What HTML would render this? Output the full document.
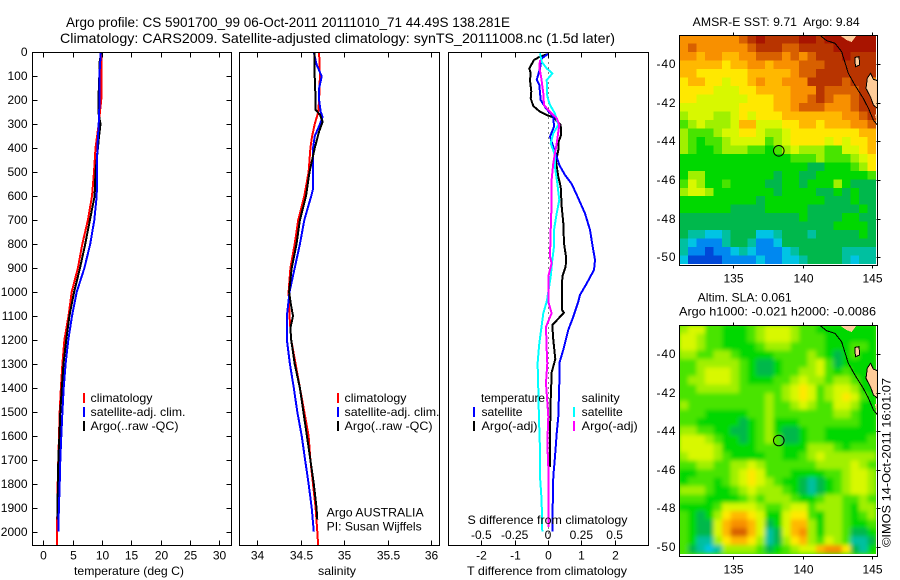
<!DOCTYPE html>
<html lang="en">
<head>
<meta charset="utf-8">
<title>Argo profile 5901700_99</title>
<style>
html,body{margin:0;padding:0;background:#fff;}
svg{display:block;}
text{font-family:"Liberation Sans",sans-serif;font-size:12px;fill:#000;dominant-baseline:central;}
.frame{fill:none;stroke:#000;stroke-width:1;shape-rendering:crispEdges;}
.tick{stroke:#000;stroke-width:1;shape-rendering:crispEdges;}
.prof{fill:none;stroke-width:2;shape-rendering:crispEdges;stroke-linejoin:miter;}
.key{stroke-width:2;shape-rendering:crispEdges;}
</style>
</head>
<body>
<svg id="chart" xmlns="http://www.w3.org/2000/svg" width="900" height="580" viewBox="0 0 900 580">
  <defs>
    <filter id="sla-smooth" x="-5%" y="-5%" width="110%" height="110%"><feGaussianBlur stdDeviation="2"/></filter>
    <clipPath id="sla-clip"><rect x="679" y="325" width="197" height="229"/></clipPath>
  </defs>
  <rect x="0" y="0" width="900" height="580" fill="#fff"/>
  <text x="66" y="22" font-size="14" style="font-size:14px" textLength="444" lengthAdjust="spacingAndGlyphs">Argo profile: CS 5901700_99 06-Oct-2011 20111010_71 44.49S 138.281E</text>
  <text x="60" y="38" style="font-size:14px" textLength="555" lengthAdjust="spacingAndGlyphs">Climatology: CARS2009. Satellite-adjusted climatology: synTS_20111008.nc (1.5d later)</text>

  <g id="panel-layer"></g>

  <text x="74" y="571" textLength="110" lengthAdjust="spacingAndGlyphs">temperature (deg C)</text>
  <text x="318" y="571" textLength="38" lengthAdjust="spacingAndGlyphs">salinity</text>
  <text x="467" y="571" textLength="160" lengthAdjust="spacingAndGlyphs">T difference from climatology</text>
  <text x="467.5" y="520" textLength="160" lengthAdjust="spacingAndGlyphs">S difference from climatology</text>

  <g>
    <line class="key" x1="84" y1="393" x2="84" y2="403" stroke="#f00"/>
    <text x="90.5" y="398" textLength="62" lengthAdjust="spacingAndGlyphs">climatology</text>
    <line class="key" x1="84" y1="407" x2="84" y2="417" stroke="#00f"/>
    <text x="90.5" y="412" textLength="95" lengthAdjust="spacingAndGlyphs">satellite-adj. clim.</text>
    <line class="key" x1="84" y1="421" x2="84" y2="431" stroke="#000"/>
    <text x="90.5" y="426" textLength="88" lengthAdjust="spacingAndGlyphs">Argo(..raw -QC)</text>
  </g>
  <g>
    <line class="key" x1="338" y1="393" x2="338" y2="403" stroke="#f00"/>
    <text x="344.5" y="398" textLength="62" lengthAdjust="spacingAndGlyphs">climatology</text>
    <line class="key" x1="338" y1="407" x2="338" y2="417" stroke="#00f"/>
    <text x="344.5" y="412" textLength="95" lengthAdjust="spacingAndGlyphs">satellite-adj. clim.</text>
    <line class="key" x1="338" y1="421" x2="338" y2="431" stroke="#000"/>
    <text x="344.5" y="426" textLength="88" lengthAdjust="spacingAndGlyphs">Argo(..raw -QC)</text>
  </g>
  <text x="326.7" y="512.7" textLength="97" lengthAdjust="spacingAndGlyphs">Argo AUSTRALIA</text>
  <text x="326.7" y="526.7" textLength="95" lengthAdjust="spacingAndGlyphs">PI: Susan Wijffels</text>

  <g>
    <text x="481" y="398" textLength="64" lengthAdjust="spacingAndGlyphs">temperature</text>
    <line class="key" x1="474" y1="407" x2="474" y2="417" stroke="#00f"/>
    <text x="481.5" y="412" textLength="41" lengthAdjust="spacingAndGlyphs">satellite</text>
    <line class="key" x1="474" y1="421" x2="474" y2="431" stroke="#000"/>
    <text x="481.5" y="426" textLength="56" lengthAdjust="spacingAndGlyphs">Argo(-adj)</text>
    <text x="581.7" y="398" textLength="38" lengthAdjust="spacingAndGlyphs">salinity</text>
    <line class="key" x1="574" y1="407" x2="574" y2="417" stroke="#0ff"/>
    <text x="581.7" y="412" textLength="41" lengthAdjust="spacingAndGlyphs">satellite</text>
    <line class="key" x1="574" y1="421" x2="574" y2="431" stroke="#f0f"/>
    <text x="581.7" y="426" textLength="56" lengthAdjust="spacingAndGlyphs">Argo(-adj)</text>
  </g>

  <g id="map-layer"></g>

  <text x="692.7" y="22" textLength="167" lengthAdjust="spacingAndGlyphs" xml:space="preserve">AMSR-E SST: 9.71  Argo: 9.84</text>
  <text x="697.7" y="297.3" textLength="94" lengthAdjust="spacingAndGlyphs">Altim. SLA: 0.061</text>
  <text x="679" y="311.7" textLength="197" lengthAdjust="spacingAndGlyphs">Argo h1000: -0.021 h2000: -0.0086</text>
  <text transform="translate(886.7,547) rotate(-90)" x="0" y="0" textLength="169" lengthAdjust="spacingAndGlyphs">©IMOS 14-Oct-2011 16:01:07</text>
</svg>
<script>
// ---- profile data (depth in m, temperature in deg C, salinity in psu) ----
var tempClimDepth = [0,180,300,400,500,600,700,800,900,1000,1100,1200,1300,1400,1500,1600,1700,1800,1900,2000,2060];
var tempClimValue = [9.95,9.95,9.44,8.9,8.64,8.3,7.6,6.65,5.9,4.84,4.3,3.6,3.25,3.0,2.8,2.68,2.56,2.45,2.4,2.33,2.33];
var tempSatDepth = [0,100,200,300,400,500,600,700,800,900,1000,1100,1200,1300,1400,1500,1600,1700,1800,1900,2000];
var tempSatValue = [9.8,9.55,9.6,9.45,9.2,9.17,9.1,8.7,8.0,7.0,5.7,4.9,4.26,3.8,3.47,3.25,3.07,2.9,2.8,2.66,2.56];
var tempArgoDepth = [0,50,100,200,250,300,350,400,500,600,700,800,900,1000,1100,1200,1300,1400,1500,1600,1700,1800,1900,1950];
var tempArgoValue = [9.85,9.55,9.55,9.4,9.4,9.75,9.5,9.3,8.9,8.75,7.95,7.15,6.25,5.25,4.45,3.9,3.45,3.15,2.9,2.75,2.55,2.5,2.4,2.4];

var salClimDepth = [0,100,200,250,300,350,400,500,600,700,800,900,1000,1100,1200,1300,1400,1500,1600,1700,1800,1900,2000,2060];
var salClimValue = [34.71,34.72,34.71,34.70,34.66,34.63,34.61,34.59,34.54,34.47,34.43,34.38,34.36,34.37,34.39,34.44,34.49,34.54,34.59,34.61,34.64,34.67,34.69,34.70];
var salSatDepth = [0,50,100,150,200,250,270,300,350,400,500,570,600,700,800,900,1000,1100,1200,1300,1400,1500,1600,1700,1800,1900,2000];
var salSatValue = [34.65,34.68,34.74,34.71,34.71,34.73,34.75,34.72,34.66,34.64,34.64,34.64,34.62,34.54,34.49,34.43,34.37,34.34,34.34,34.375,34.42,34.46,34.51,34.55,34.59,34.625,34.65];
var salArgoDepth = [0,50,100,200,240,260,290,330,400,500,600,700,800,900,1000,1050,1100,1150,1200,1300,1400,1500,1600,1700,1800,1900,1950];
var salArgoValue = [34.655,34.66,34.66,34.67,34.67,34.72,34.75,34.71,34.66,34.6,34.56,34.49,34.45,34.395,34.365,34.385,34.41,34.38,34.39,34.43,34.49,34.53,34.57,34.61,34.65,34.68,34.69];

var diffTArgoDepth = [7,18,32,67,88,116,164,192,224,248,262,271,303,345,373,408,456,519,561,644,713,797,853,894,936,1020,1075,1086,1138,1200,1280,1335,1450,1590,1730];
var diffTArgoValue = [0.01,-0.24,-0.42,-0.56,-0.52,-0.54,-0.5,-0.52,-0.44,-0.24,-0.04,0.16,0.38,0.39,0.32,0.31,0.24,0.31,0.38,0.41,0.46,0.48,0.54,0.53,0.43,0.42,0.42,0.48,0.13,0.16,0.22,0.11,0.08,0.06,0.06];
var diffTSatDepth = [7,25,67,115,136,199,234,268,310,352,387,428,470,512,549,609,672,741,811,866,908,964,1012,1040,1103,1158,1241,1297,1380,1520,1590,1687,1770,1895,2000];
var diffTSatValue = [0,-0.19,-0.24,-0.34,-0.26,-0.22,-0.06,0.16,0.18,0.06,0.14,0.24,0.34,0.51,0.71,0.91,1.11,1.26,1.34,1.41,1.38,1.16,0.96,0.91,0.76,0.61,0.46,0.34,0.34,0.31,0.26,0.21,0.16,0.14,0.13];
var diffSSatDepth = [4,39,67,88,116,185,220,255,303,338,380,428,477,547,616,672,741,811,866,936,1026,1040,1089,1158,1214,1297,1422,1520,1659,1770,1867,2000];
var diffSSatValue = [-0.06,-0.048,-0.01,0.033,-0.01,-0.005,0.015,0.052,0.078,0.04,0.02,0.052,0.052,0.07,0.085,0.065,0.045,0.045,0.032,0.02,-0.005,-0.01,-0.035,-0.052,-0.065,-0.078,-0.072,-0.068,-0.06,-0.06,-0.048,-0.043];
var diffSArgoDepth = [32,60,116,172,220,241,275,303,380,422,463,533,630,741,853,880,936,1026,1040,1089,1145,1241,1297,1380,1520,1630,1730,1867,1980];
var diffSArgoValue = [-0.06,-0.065,-0.048,-0.035,-0.03,0.002,0.065,0.085,0.065,0.052,0.04,0.027,0.027,0.02,0.015,0.027,0.002,0.002,0.002,0.027,-0.015,-0.01,-0.005,-0.015,0.002,-0.005,0.002,0.002,0.002];

// ---- tick labels ----
var depthTicks = [0,100,200,300,400,500,600,700,800,900,1000,1100,1200,1300,1400,1500,1600,1700,1800,1900,2000];
var tempTicks = [0,5,10,15,20,25,30];
var salTicks = [34,34.5,35,35.5,36];
var salTickLabels = ['34','34.5','35','35.5','36'];
var diffTTicks = [-2,-1,0,1,2];
var diffTTickLabels = ['-2','-1','0','1','2'];
var diffSTicks = [-0.5,-0.25,0,0.25,0.5];
var diffSTickLabels = ['-0.5','-0.25','0','0.25','0.5'];
var latTicks = [-40,-42,-44,-46,-48,-50];
var lonTicks = [135,140,145];

// ---- map data: colour level per grid cell, north to south ----
var sstLevels = [
[11,11,11,11,11,11,11,12,13,14,13,13,13,13,14,14,13,14,14,14,14,14,14],
[11,12,11,11,11,11,11,11,12,13,13,13,12,12,13,13,13,13,14,14,14,14,14],
[11,11,10,11,11,10,10,11,11,12,12,12,11,12,11,12,13,13,13,14,13,13,13],
[10,10,10,10,10,9,10,10,11,11,10,11,11,11,12,12,12,13,13,13,13,13,13],
[10,10,9,9,9,9,9,9,10,10,10,10,10,11,12,12,13,13,13,13,13,13,13],
[9,10,10,9,9,8,9,9,10,11,10,10,11,11,11,13,13,13,13,12,13,13,11],
[9,9,9,9,8,8,8,9,9,10,10,10,10,11,11,11,13,12,12,12,12,13,13],
[9,9,8,8,8,8,8,8,9,9,9,10,10,11,11,12,13,12,11,11,12,13,13],
[8,8,8,8,8,8,8,9,9,9,9,10,10,11,12,12,12,11,11,11,12,13,13],
[7,8,8,8,7,7,8,9,8,9,9,9,10,10,10,10,10,10,10,11,11,12,13],
[6,7,8,7,7,7,8,10,10,8,8,8,9,9,10,10,9,10,10,10,11,11,12],
[7,6,6,6,7,8,8,9,9,8,7,7,8,9,9,9,9,9,9,9,9,10,10],
[7,6,5,6,6,7,8,8,8,8,6,7,8,9,9,9,9,8,9,8,9,9,10],
[7,6,5,5,6,7,7,7,6,6,5,6,7,8,7,7,7,6,6,8,8,9,10],
[5,5,5,5,5,5,5,5,5,5,5,5,5,6,6,6,7,6,6,6,7,8,9],
[5,5,5,5,5,5,5,5,5,5,5,5,5,5,5,4,4,5,5,5,6,7,9],
[5,7,7,5,5,5,5,5,5,5,5,4,5,5,4,4,5,5,5,5,5,5,6],
[6,8,7,5,5,6,5,5,5,5,4,4,5,5,4,5,5,5,7,5,4,4,4],
[7,8,8,7,5,5,5,5,5,5,5,4,5,5,5,5,4,4,5,4,5,4,4],
[5,5,5,5,5,5,5,5,5,4,5,5,5,5,5,5,5,4,4,4,5,4,4],
[5,5,5,5,5,5,4,4,4,4,5,5,5,5,5,4,4,4,4,4,4,5,4],
[4,4,4,4,4,4,4,4,4,4,4,4,4,4,5,4,4,4,4,5,5,4,4],
[4,4,4,4,4,4,4,4,4,4,4,4,4,4,4,4,4,4,5,5,5,5,4],
[4,3,3,2,2,3,4,4,4,2,2,3,4,4,4,3,4,4,4,4,4,5,4],
[3,2,1,1,1,3,4,4,3,1,1,2,4,4,4,4,4,4,4,4,4,4,4],
[3,1,1,0,1,1,2,3,2,1,1,1,2,3,4,4,4,4,4,3,3,3,3],
[2,0,0,0,0,1,1,1,1,2,1,1,2,2,3,4,4,4,4,3,2,3,3]
];
var slaLevels = [
[7,8,8,6,6,5,5,5,6,7,8,8,8,7,6,6,5,5,5,5,5,5,5],
[8,8,7,6,6,5,5,5,6,7,8,8,8,7,6,6,6,5,5,5,5,5,5],
[8,8,7,6,6,5,5,5,5,6,7,7,7,6,6,6,6,5,5,5,6,6,5],
[7,7,6,6,7,7,6,5,5,5,5,6,6,6,6,7,6,5,4,5,6,5,5],
[6,6,7,7,7,7,7,6,5,4,4,5,6,6,6,7,8,6,4,5,5,5,5],
[6,6,7,8,8,8,7,6,5,4,4,5,6,6,7,7,8,6,5,6,5,5,5],
[6,7,7,8,8,8,7,6,5,5,5,6,6,7,8,7,7,6,7,7,6,5,5],
[6,6,7,7,7,7,7,6,6,6,6,6,7,8,9,8,6,7,8,8,7,5,5],
[6,6,6,6,6,6,6,6,6,6,7,6,7,8,9,8,6,7,8,9,8,6,5],
[7,6,6,6,6,6,6,6,6,6,7,6,6,7,8,7,6,6,8,8,7,5,5],
[6,6,6,5,5,5,5,5,6,6,7,6,6,6,6,6,6,6,7,7,6,5,5],
[6,6,5,5,5,5,5,4,5,6,7,5,5,5,6,6,6,6,6,6,6,5,5],
[7,7,6,6,5,5,4,4,5,6,7,5,4,4,5,6,6,5,5,5,5,5,5],
[8,8,8,7,6,5,5,4,5,6,7,6,4,4,5,6,6,5,5,5,5,5,6],
[8,8,8,8,7,5,5,5,5,6,6,6,5,5,5,7,7,7,6,5,6,6,6],
[7,8,8,8,7,6,5,5,5,5,6,6,5,5,6,7,8,7,7,7,7,7,7],
[6,6,7,7,6,6,7,7,8,7,6,6,6,6,6,6,7,7,7,7,8,7,6],
[5,5,6,6,6,6,7,8,9,8,6,6,6,5,5,5,5,6,6,7,8,8,7],
[5,6,6,6,5,6,7,8,9,8,7,6,5,5,4,3,4,5,6,7,8,8,7],
[7,7,7,6,5,5,6,7,8,7,7,7,6,5,4,3,4,5,6,7,8,8,7],
[6,6,6,5,5,5,5,6,7,6,7,7,7,6,5,5,6,7,7,6,6,7,6],
[5,5,5,5,6,8,8,8,8,7,6,6,7,8,8,6,7,7,7,6,5,7,7],
[6,5,4,5,7,9,10,10,9,8,5,5,8,9,9,6,5,7,7,6,5,6,7],
[6,5,4,4,8,10,11,11,10,8,4,5,8,10,10,7,5,7,7,6,5,5,6],
[6,5,4,4,8,10,12,12,10,8,3,4,8,10,11,7,5,7,7,6,4,4,5],
[6,5,3,3,7,9,10,10,9,7,3,4,7,9,10,7,6,8,7,6,3,3,4],
[6,4,3,2,3,7,7,7,7,6,4,5,6,7,8,8,10,11,11,9,4,3,5]
];
var levelColors = ['#0048d8','#0088f0','#00c4e4','#00c0a0','#00b84c','#00d800','#48e400','#a0f000','#d8f800','#ffe800','#ffb800','#f89000','#d86000','#b83400','#a81400'];

var coastLon = [141.25,141.73,142.33,142.81,143.29,143.77,144.37,144.74,145.1,145.38];
var coastLat = [-38.52,-38.79,-38.93,-39.36,-40.48,-41.09,-41.78,-42.29,-42.9,-43.15];
var landLons = [[142.69,143.89,143.53,143.17],[143.77,144.06,144.11,143.8],[144.66,144.9,145.1,145.38,145.38,145.1,144.9,144.57],[145.2,145.38,145.38]];
var landLats = [[-38.52,-38.52,-38.86,-38.76],[-39.66,-39.62,-40.05,-40.14],[-40.74,-40.48,-40.79,-40.86,-42.29,-42.12,-41.72,-41.26],[-42.6,-42.6,-43.1]];
var floatLon = 138.281;
var floatLat = -44.49;

// ---- helpers ----
var NS = 'http://www.w3.org/2000/svg';
var panelLayer = document.getElementById('panel-layer');
var mapLayer = document.getElementById('map-layer');

function make(tag, parent, attrs) {
  var el = document.createElementNS(NS, tag);
  for (var k in attrs) { el.setAttribute(k, attrs[k]); }
  parent.appendChild(el);
  return el;
}

var panelTop = 52.5, panelBottom = 545.5;
function depthY(d) { return 52.3 + 0.2397 * d; }

function tempX(v) { return 43.3 + 5.867 * v; }
function salX(v) { return 257.3 + 87 * (v - 34); }
function diffTX(v) { return 548 + 33.33 * v; }
function diffSX(v) { return 548 + 133.3 * v; }

function addFrame(parent, x1, x2, name) {
  var box = make('rect', parent, {x: x1, y: panelTop, width: x2 - x1, height: panelBottom - panelTop, 'class': 'frame'});
  
  
}

function addTick(parent, x1, y1, x2, y2) {
  var t = make('line', parent, {x1: x1, y1: y1, x2: x2, y2: y2, 'class': 'tick'});
  
  
}

function addLabel(parent, x, y, str, anchor) {
  var t = make('text', parent, {x: x, y: y, 'text-anchor': anchor});
  t.textContent = str;
  
  
  return t;
}

function addProfile(parent, depths, values, xFn, color, name) {
  var pts = [];
  for (var i = 0; i < depths.length; i++) {
    pts.push(xFn(values[i]).toFixed(1) + ',' + depthY(depths[i]).toFixed(1));
  }
  var line = make('polyline', parent, {points: pts.join(' '), stroke: color, 'class': 'prof'});
  
  
}

// ---- temperature panel ----
var pT = make('g', panelLayer, {});


addProfile(pT, tempClimDepth, tempClimValue, tempX, '#f00', 'temperature-climatology-line');
addProfile(pT, tempArgoDepth, tempArgoValue, tempX, '#000', 'temperature-argo-line');
addProfile(pT, tempSatDepth, tempSatValue, tempX, '#00f', 'temperature-satellite-line');
addFrame(pT, 32.5, 231.5, 'temperature-plot-frame');
depthTicks.forEach(function (d) {
  var y = Math.round(depthY(d)) + 0.5;
  if (d > 0) {
    addTick(pT, 32.5, y, 37.5, y);
    addTick(pT, 231.5, y, 226.5, y);
  }
  addLabel(pT, 27.5, y - 0.5, String(d), 'end');
});
tempTicks.forEach(function (v) {
  var x = Math.round(tempX(v)) + 0.5;
  addTick(pT, x, panelTop, x, panelTop + 5);
  addTick(pT, x, panelBottom, x, panelBottom - 5);
  addLabel(pT, x, 555.5, String(v), 'middle');
});

// ---- salinity panel ----
var pS = make('g', panelLayer, {});


addProfile(pS, salClimDepth, salClimValue, salX, '#f00', 'salinity-climatology-line');
addProfile(pS, salSatDepth, salSatValue, salX, '#00f', 'salinity-satellite-line');
addProfile(pS, salArgoDepth, salArgoValue, salX, '#000', 'salinity-argo-line');
addFrame(pS, 239.5, 439.5, 'salinity-plot-frame');
salTicks.forEach(function (v, i) {
  var x = Math.round(salX(v)) + 0.5;
  addTick(pS, x, panelTop, x, panelTop + 5);
  addTick(pS, x, panelBottom, x, panelBottom - 5);
  addLabel(pS, x, 555.5, salTickLabels[i], 'middle');
});

// ---- difference panel ----
var pD = make('g', panelLayer, {});


var zero = make('line', pD, {x1: 548.5, y1: panelTop, x2: 548.5, y2: panelBottom, stroke: '#000', 'stroke-width': 1, 'stroke-dasharray': '1 4', 'shape-rendering': 'crispEdges'});


addProfile(pD, diffTArgoDepth, diffTArgoValue, diffTX, '#000', 't-difference-argo-line');
addProfile(pD, diffTSatDepth, diffTSatValue, diffTX, '#00f', 't-difference-satellite-line');
addProfile(pD, diffSSatDepth, diffSSatValue, diffSX, '#0ff', 's-difference-satellite-line');
addProfile(pD, diffSArgoDepth, diffSArgoValue, diffSX, '#f0f', 's-difference-argo-line');
addFrame(pD, 448.5, 648.5, 'difference-plot-frame');
diffTTicks.forEach(function (v, i) {
  var x = Math.round(diffTX(v)) + 0.5;
  addTick(pD, x, panelTop, x, panelTop + 5);
  addTick(pD, x, panelBottom, x, panelBottom - 5);
  addLabel(pD, x, 555.5, diffTTickLabels[i], 'middle');
});
diffSTicks.forEach(function (v, i) {
  addLabel(pD, diffSX(v), 535, diffSTickLabels[i], 'middle');
});

// ---- maps ----
var gridLon0 = 131.1, gridDLon = 0.617, gridLat0 = -38.5, gridDLat = 0.439;
function lonX(lon) { return 733.3 + 13.87 * (lon - 135); }

function drawMap(levels, name, top, bottom, lat40Y, perDeg, smooth) {
  function latY(lat) { return lat40Y + perDeg * (-40 - lat); }
  var g = make('g', mapLayer, {});
  
  

  var cellParent = g;
  if (smooth) {
    var clip = make('g', g, {'clip-path': 'url(#sla-clip)'});
    
    
    var backing = make('rect', clip, {x: 679, y: 325, width: 197, height: 229, fill: levelColors[6]});
    
    
    cellParent = make('g', clip, {filter: 'url(#sla-smooth)'});
    
    
  }

  levels.forEach(function (row, r) {
    row.forEach(function (level, c) {
      var x0 = lonX(gridLon0 + c * gridDLon), x1 = lonX(gridLon0 + (c + 1) * gridDLon);
      var y0 = latY(gridLat0 - r * gridDLat), y1 = latY(gridLat0 - (r + 1) * gridDLat);
      var cell = make('rect', cellParent, {x: x0.toFixed(2), y: y0.toFixed(2), width: (x1 - x0).toFixed(2), height: (y1 - y0).toFixed(2), fill: levelColors[level], 'shape-rendering': 'crispEdges'});
      
      
    });
  });

  landLons.forEach(function (lons, i) {
    var pts = lons.map(function (lon, j) { return lonX(lon).toFixed(1) + ',' + latY(landLats[i][j]).toFixed(1); });
    var land = make('polygon', g, {points: pts.join(' '), fill: '#ffcc99', stroke: '#000', 'stroke-width': i === 0 || i === 3 ? 0 : 1, 'shape-rendering': 'crispEdges'});
    
    
  });

  var coastPts = coastLon.map(function (lon, j) { return lonX(lon).toFixed(1) + ',' + latY(coastLat[j]).toFixed(1); });
  var coast = make('polyline', g, {points: coastPts.join(' '), fill: 'none', stroke: '#000', 'stroke-width': 1, 'shape-rendering': 'crispEdges'});
  
  

  var marker = make('circle', g, {cx: lonX(floatLon).toFixed(1), cy: latY(floatLat).toFixed(1), r: 5.3, fill: 'none', stroke: '#000', 'stroke-width': 1});
  
  

  var box = make('rect', g, {x: 679.5, y: top, width: 198, height: bottom - top, 'class': 'frame'});
  
  

  latTicks.forEach(function (lat) {
    var y = Math.round(latY(lat)) + 0.5;
    addTick(g, 876.5, y, 880.5, y);
    var label = addLabel(g, 675.5, y - 0.5, String(lat), 'end');
    label.setAttribute('textLength', '19');
  });
  lonTicks.forEach(function (lon) {
    var x = Math.round(lonX(lon)) + 0.5;
    addTick(g, x, top, x, top - 3);
    addTick(g, x, bottom, x, bottom + 3);
    addLabel(g, x, bottom + 13, String(lon), 'middle');
  });
}

drawMap(sstLevels, 'sst-map', 35.5, 265.5, 64, 19.33, false);
drawMap(slaLevels, 'sla-map', 325.5, 556.5, 354, 19.27, true);
</script>
</body>
</html>
